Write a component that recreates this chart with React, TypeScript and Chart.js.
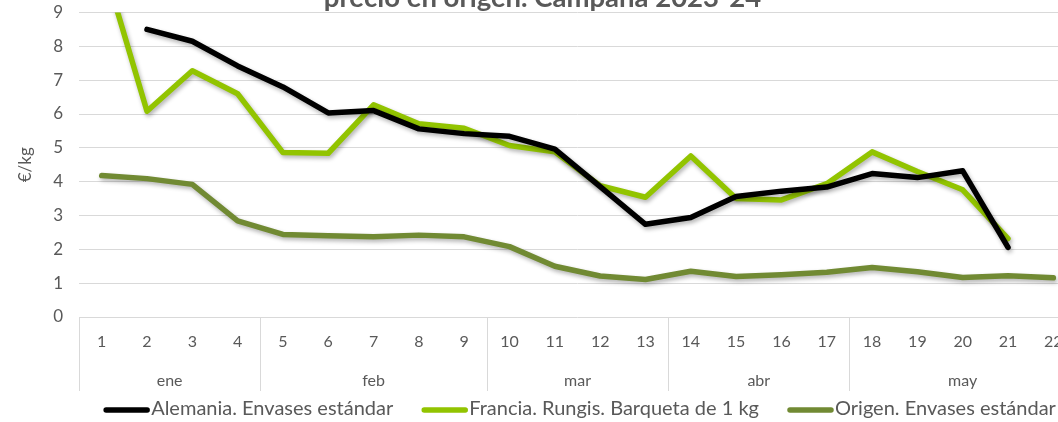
import React, { useEffect, useRef } from "react";
import { Chart, registerables } from "chart.js";

Chart.register(...registerables);

const weeks = ["1", "2", "3", "4", "5", "6", "7", "8", "9", "10", "11", "12", "13", "14", "15", "16", "17", "18", "19", "20", "21", "22"];
const months = ["ene", "feb", "mar", "abr", "may"];
const monthWeekCounts = [4, 5, 4, 4, 5];
const seriesNames = ["Alemania. Envases estándar", "Francia. Rungis. Barqueta de 1 kg", "Origen. Envases estándar"];
const alemania = [null, 8.5, 8.15, 7.42, 6.8, 6.03, 6.1, 5.56, 5.42, 5.34, 4.96, 3.85, 2.74, 2.94, 3.56, 3.72, 3.84, 4.24, 4.12, 4.32, 2.06, null];
const francia = [10.6, 6.08, 7.28, 6.6, 4.86, 4.84, 6.27, 5.71, 5.58, 5.07, 4.88, 3.88, 3.54, 4.76, 3.5, 3.46, 3.94, 4.88, 4.3, 3.76, 2.32, null];
const origen = [4.18, 4.09, 3.92, 2.84, 2.44, 2.4, 2.37, 2.42, 2.37, 2.08, 1.5, 1.21, 1.11, 1.35, 1.2, 1.25, 1.32, 1.46, 1.34, 1.17, 1.22, 1.16];
const yTicks = [0, 1, 2, 3, 4, 5, 6, 7, 8, 9];
const titleText = "precio en origen. Campaña 2023-24";
const yTitle = "€/kg";

const FONT = "Lato, 'Open Sans', sans-serif";
const TEXT = "#595959";
const GRID = "#d9d9d9";

const shadowPlugin = {
  id: "lineShadow",
  beforeDatasetDraw(chart: any) {
    const c = chart.ctx;
    c.save();
    c.shadowColor = "rgba(0,0,0,0.3)";
    c.shadowBlur = 4;
    c.shadowOffsetX = 1.5;
    c.shadowOffsetY = 2.5;
  },
  afterDatasetDraw(chart: any) {
    chart.ctx.restore();
  },
};

const monthPlugin = {
  id: "monthGroups",
  afterDraw(chart: any) {
    const { ctx, chartArea } = chart;
    const x = chart.scales.x;
    const half = (x.getPixelForValue(1) - x.getPixelForValue(0)) / 2;
    const top = chartArea.bottom;
    ctx.save();
    ctx.strokeStyle = GRID;
    ctx.lineWidth = 1;
    ctx.fillStyle = TEXT;
    ctx.font = `16px ${FONT}`;
    ctx.textAlign = "center";
    ctx.textBaseline = "middle";
    let start = 0;
    const drawSep = (px: number) => {
      ctx.beginPath();
      ctx.moveTo(Math.round(px) + 0.5, top);
      ctx.lineTo(Math.round(px) + 0.5, top + 74);
      ctx.stroke();
    };
    drawSep(x.getPixelForValue(0) - half);
    months.forEach((m, i) => {
      const end = start + monthWeekCounts[i] - 1;
      const left = x.getPixelForValue(start) - half;
      const right = x.getPixelForValue(end) + half;
      drawSep(right);
      ctx.fillText(m, (left + right) / 2, top + 64);
      start = end + 1;
    });
    ctx.restore();
  },
};

const legendPlugin = {
  id: "lineLegend",
  afterDraw(chart: any) {
    const { ctx, chartArea } = chart;
    const ds = chart.data.datasets;
    ctx.save();
    ctx.font = `20px ${FONT}`;
    const markW = 47;
    const gap = 28;
    const widths = ds.map((d: any) => ctx.measureText(d.label).width);
    const total = widths.reduce((a: number, w: number) => a + markW + 1 + w, 0) + gap * (ds.length - 1);
    let x = (chartArea.left + chartArea.right) / 2 + 2 - total / 2;
    const y = chartArea.bottom + 93;
    ctx.textBaseline = "middle";
    ctx.textAlign = "left";
    ds.forEach((d: any, i: number) => {
      ctx.strokeStyle = d.borderColor;
      ctx.lineWidth = 5.5;
      ctx.lineCap = "round";
      ctx.beginPath();
      ctx.moveTo(x + 3, y);
      ctx.lineTo(x + markW - 3, y);
      ctx.stroke();
      ctx.fillStyle = TEXT;
      ctx.fillText(d.label, x + markW + 1, y - 1);
      x += markW + 1 + widths[i] + gap;
    });
    ctx.restore();
  },
};

export default function App() {
  const ref = useRef<HTMLCanvasElement | null>(null);
  useEffect(() => {
    if (!ref.current) return;
    const mk = (label: string, data: (number | null)[], color: string) => ({
      label,
      data,
      borderColor: color,
      backgroundColor: color,
      borderWidth: 5.5,
      borderCapStyle: "round" as const,
      borderJoinStyle: "round" as const,
      pointRadius: 0,
      pointHoverRadius: 0,
      tension: 0,
      fill: false,
      spanGaps: false,
    });
    const chart = new Chart(ref.current, {
      type: "line",
      data: {
        labels: weeks,
        datasets: [
          mk(seriesNames[0], alemania, "#000000"),
          mk(seriesNames[1], francia, "#92C400"),
          mk(seriesNames[2], origen, "#718A33"),
        ],
      },
      options: {
        animation: false,
        responsive: true,
        maintainAspectRatio: false,
        layout: { padding: { left: 9, right: 4, top: 0, bottom: 58 } },
        plugins: {
          tooltip: { enabled: false },
          legend: { display: false },
          title: {
            display: true,
            text: titleText,
            color: TEXT,
            font: { family: FONT, size: 27.5, weight: "bold", lineHeight: 1 },
            padding: { top: 0, bottom: 1 },
          },
        },
        scales: {
          x: {
            type: "category",
            offset: true,
            grid: { display: false },
            border: { display: false },
            ticks: {
              color: TEXT,
              font: { family: FONT, size: 16 },
              padding: 7,
              maxRotation: 0,
              autoSkip: false,
            },
            afterFit(scale: any) {
              scale.height = 55;
            },
          },
          y: {
            min: 0,
            max: 9,
            afterBuildTicks(scale: any) {
              scale.ticks = yTicks.map((v) => ({ value: v }));
            },
            grid: { color: GRID, lineWidth: 1, drawTicks: false },
            border: { display: false },
            ticks: {
              color: TEXT,
              font: { family: FONT, size: 17 },
              padding: 16,
            },
            title: {
              display: true,
              text: yTitle,
              color: TEXT,
              font: { family: FONT, size: 17 },
              padding: { top: 6, bottom: 0 },
            },
            afterFit(scale: any) {
              scale.width = 70;
            },
          },
        },
      },
      plugins: [shadowPlugin, monthPlugin, legendPlugin],
    });
    return () => chart.destroy();
  }, []);

  return (
    <div style={{ position: "fixed", left: 0, top: 0, width: "100vw", height: "100vh", overflow: "hidden", background: "#fff" }}>
      <div style={{ position: "absolute", left: 0, top: -16, width: 1080, height: 446 }}>
        <canvas ref={ref} />
      </div>
    </div>
  );
}
